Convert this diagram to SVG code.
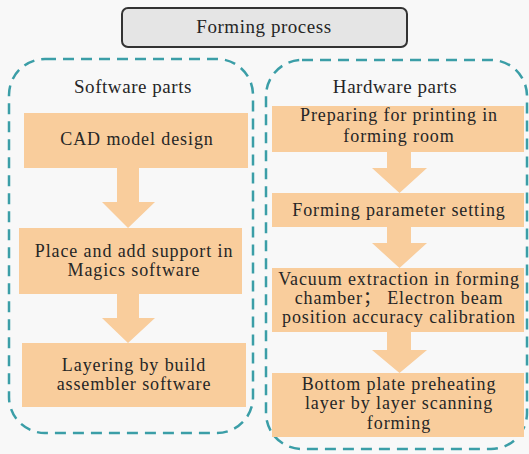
<svg xmlns="http://www.w3.org/2000/svg" width="529" height="454" viewBox="0 0 529 454">
<style>
text{font-family:"Liberation Serif","Times New Roman","Noto Sans CJK SC",serif;font-size:18px;letter-spacing:0.9px;fill:#262626;text-anchor:middle}
text.t{font-size:19px;letter-spacing:0.55px}
.node rect{fill:#f9cd9c}
.arrow{fill:#f9cd9c}
.panel{fill:none;stroke:#3b9ea7;stroke-width:2.5;stroke-dasharray:11 7}
</style>
<rect width="529" height="454" fill="#f8f8f8"/>
<g id="title">
<rect x="122" y="8" width="285" height="39" rx="6" fill="#e5e5e5" stroke="#333" stroke-width="2"/>
<text class="t" x="264" y="33">Forming process</text>
</g>
<g id="software">
<rect class="panel" x="9" y="59" width="244" height="374" rx="36"/>
<text class="t" x="133" y="93">Software parts</text>
</g>
<g id="hardware">
<rect class="panel" x="266" y="60" width="261" height="389" rx="36"/>
<text class="t" x="395" y="93">Hardware parts</text>
</g>
<g id="connectors">
<polygon class="arrow" points="117,168 139,168 139,202 155,202 128,228 102,202 117,202"/>
<polygon class="arrow" points="117,294 139,294 139,318 155,318 128,343 102,318 117,318"/>
<polygon class="arrow" points="387,152 411,152 411,168 427,168 399.5,193 372,168 387,168"/>
<polygon class="arrow" points="387,227 411,227 411,243 427,243 399.5,268 372,243 387,243"/>
<polygon class="arrow" points="387,332 411,332 411,350 427,350 399.5,373 372,350 387,350"/>
</g>
<g id="n1" class="node"><rect x="24" y="113" width="224" height="55"/><text x="137" y="145">CAD model design</text></g>
<g id="n2" class="node"><rect x="19" y="228" width="223" height="66"/><text x="134" y="257">Place and add support in</text><text x="134" y="276">Magics software</text></g>
<g id="n3" class="node"><rect x="22" y="343" width="224" height="64"/><text x="134" y="371">Layering by build</text><text x="134" y="390">assembler software</text></g>
<g id="h1" class="node"><rect x="272" y="106" width="252" height="46"/><text x="399" y="121">Preparing for printing in</text><text x="399" y="142">forming room</text></g>
<g id="h2" class="node"><rect x="272" y="193" width="252" height="34"/><text x="399" y="216">Forming parameter setting</text></g>
<g id="h3" class="node"><rect x="272" y="268" width="252" height="64"/><text x="399" y="285">Vacuum extraction in forming</text><text x="399" y="304">chamber；  Electron beam</text><text x="399" y="323">position accuracy calibration</text></g>
<g id="h4" class="node"><rect x="272" y="373" width="252" height="64"/><text x="399" y="390">Bottom plate preheating</text><text x="399" y="409">layer by layer scanning</text><text x="399" y="429">forming</text></g>
</svg>
